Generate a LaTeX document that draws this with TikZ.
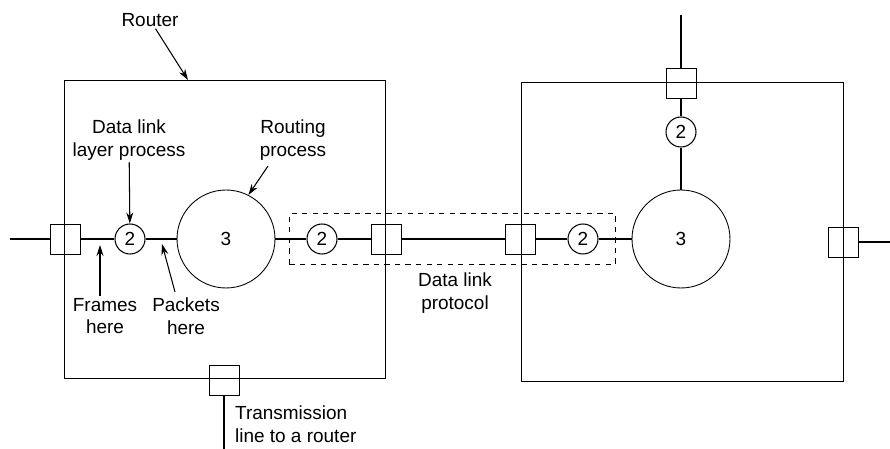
\documentclass[tikz,border=0pt]{standalone}
\usepackage{fontspec}
\setmainfont{Liberation Sans}
\usetikzlibrary{arrows.meta, positioning, fit}

\begin{document}
\begin{tikzpicture}[
  x=0.02cm, y=-0.02cm,
  font=\fontsize{10.8}{13}\selectfont,
  router/.style={rectangle, draw, line width=0.5pt, inner sep=0pt},
  port/.style={rectangle, draw, line width=0.5pt, minimum size=0.6cm, inner sep=0pt},
  dlp/.style={circle, draw, line width=0.6pt, minimum size=0.6cm, inner sep=0pt},
  rproc/.style={circle, draw, line width=0.5pt, minimum size=1.96cm, inner sep=0pt},
  link/.style={line width=1pt},
  lbl/.style={align=center, inner sep=1pt},
  arr/.style={-{Stealth[length=2.2mm, width=1.4mm]}, line width=0.6pt}
]
\useasboundingbox (0,0) rectangle (890,449);
% the two routers
\node[router, minimum width=6.42cm, minimum height=5.96cm] (rtrA) at (224.5,229) {};
\node[router, minimum width=6.44cm, minimum height=5.98cm] (rtrB) at (682,232) {};
% left router
\node[port] (pA1) at (65,239) {};
\node[port] (pA2) at (224,380) {};
\node[port] (pA3) at (386,239) {};
\node[dlp] (dA1) at (130,239) {2};
\node[dlp] (dA3) at (322,239) {2};
\node[rproc] (rpA) at (226,239) {3};
% right router
\node[port] (pB1) at (520,239) {};
\node[port] (pB2) at (681,83) {};
\node[port] (pB3) at (843,242) {};
\node[dlp] (dB1) at (583,239) {2};
\node[dlp] (dB2) at (681,132) {2};
\node[rproc] (rpB) at (681,239) {3};
% loose line ends
\coordinate (endW) at (10,239);
\coordinate (endS) at (224,449);
\coordinate (endN) at (681,15);
\coordinate (endE) at (890,242);
% lines
\draw[link] (endW) -- (pA1.west);
\draw[link] (pA1) -- (dA1);
\draw[link] (dA1) -- (rpA);
\draw[link] (rpA) -- (dA3);
\draw[link] (dA3) -- (pA3);
\draw[link] (pA3) -- (pB1);
\draw[link] (pB1) -- (dB1);
\draw[link] (dB1) -- (rpB);
\draw[link] (endN) -- (pB2.north);
\draw[link] (pB2) -- (dB2);
\draw[link] (dB2) -- (rpB);
\draw[link] (pB3.east) -- (endE);
\draw[link] (pA2.south) -- (endS);
% data link protocol
\node[draw, dashed, line width=0.6pt, fit=(dA3)(dB1)(pA3)(pB1),
  inner xsep=0.34cm, inner ysep=0.2cm] (dlbox) {};
% labels
\coordinate (rtrtop) at (188,80);
\coordinate (frmpt) at (100,245);
\coordinate (pktpt) at (162,244);
\node[lbl] (rtrlbl) at (150,20) {Router};
\node[lbl] (dllbl) at (129,140) {Data link\\layer process};
\node[lbl] (rplbl) at (293,140) {Routing\\process};
\node[lbl] (frmlbl) at (105,316) {Frames\\here};
\node[lbl] (pktlbl) at (186,316) {Packets\\here};
\node[lbl] (protlbl) at (455,293) {Data link\\protocol};
\node[lbl, align=left, anchor=west] (txlbl) at (233,424) {Transmission\\line to a router};
\draw[arr] (rtrlbl) -- (rtrtop);
\draw[arr] (dllbl) -- (dA1);
\draw[arr] (268,166) -- (rpA.63);
\draw[arr] (frmlbl.north -| frmpt) -- (frmpt);
\draw[arr] (175,292) -- (pktpt);
\end{tikzpicture}
\end{document}
